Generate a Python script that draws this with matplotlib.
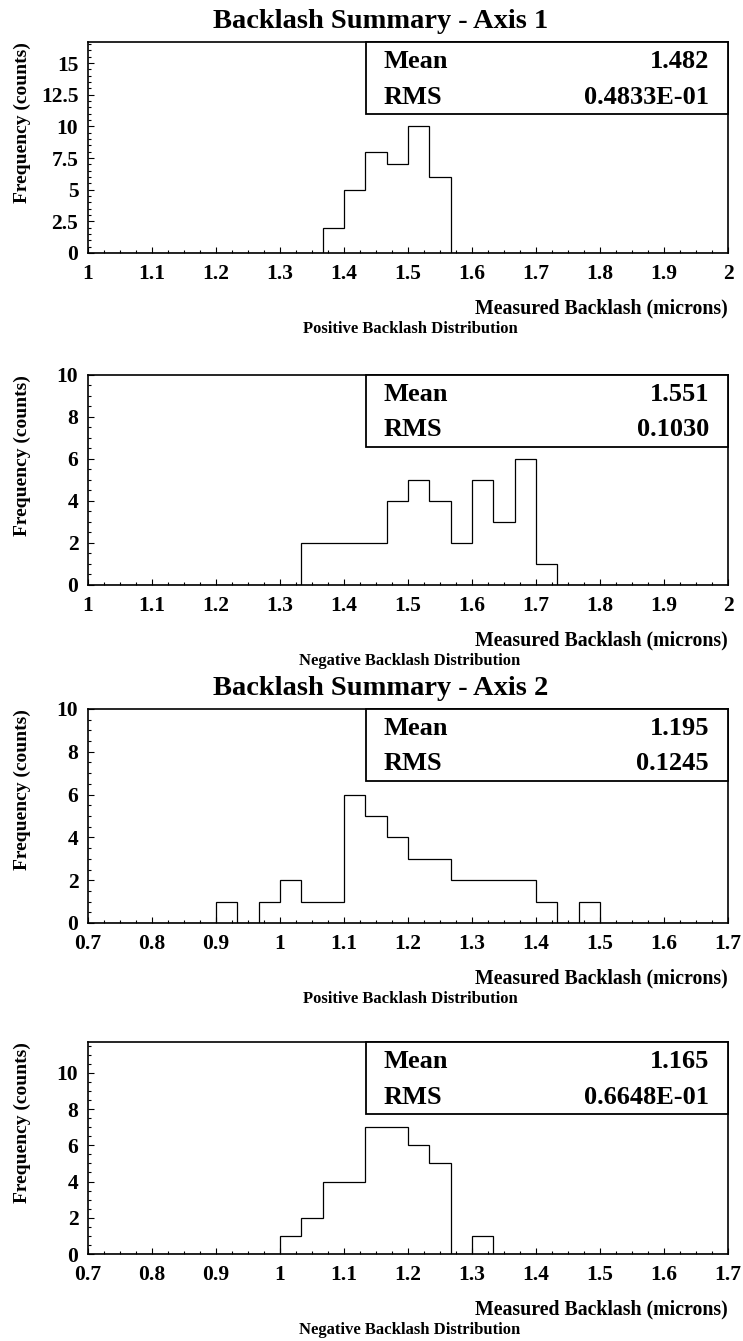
import matplotlib
matplotlib.use('Agg')
import matplotlib.pyplot as plt
import numpy as np
from matplotlib.patches import Rectangle
from matplotlib.ticker import MultipleLocator, FormatStrFormatter

plt.rcParams['font.family'] = ['Liberation Serif', 'DejaVu Serif']
plt.rcParams['font.weight'] = 'bold'

# ---------------- data ----------------
# counts per bin (bin width = 1/30 micron)
ax1_range = (1.0, 2.0)
ax1_pos_counts = [0, 0, 0, 0, 0, 0, 0, 0, 0, 0, 0, 2, 5, 8, 7, 10, 6, 0, 0, 0,
                  0, 0, 0, 0, 0, 0, 0, 0, 0, 0]
ax1_neg_counts = [0, 0, 0, 0, 0, 0, 0, 0, 0, 0, 2, 2, 2, 2, 4, 5, 4, 2, 5, 3,
                  6, 1, 0, 0, 0, 0, 0, 0, 0, 0]
ax2_range = (0.7, 1.7)
ax2_pos_counts = [0, 0, 0, 0, 0, 0, 1, 0, 1, 2, 1, 1, 6, 5, 4, 3, 3, 2, 2, 2,
                  2, 1, 0, 1, 0, 0, 0, 0, 0, 0]
ax2_neg_counts = [0, 0, 0, 0, 0, 0, 0, 0, 0, 1, 2, 4, 4, 7, 7, 6, 5, 0, 1, 0,
                  0, 0, 0, 0, 0, 0, 0, 0, 0, 0]

means = ['1.482', '1.551', '1.195', '1.165']
rmss = ['0.4833E-01', '0.1030', '0.1245', '0.6648E-01']
ymaxes = [16.66, 10, 10, 11.7]
ymajor = [2.5, 2, 2, 2]
yminor = [0.5, 0.5, 0.5, 0.5]
titles = ['Backlash Summary - Axis 1', None, 'Backlash Summary - Axis 2', None]
subtitles = ['Positive Backlash Distribution', 'Negative Backlash Distribution',
             'Positive Backlash Distribution', 'Negative Backlash Distribution']
xlabel = 'Measured Backlash (microns)'
ylabel = 'Frequency (counts)'

# ---------------- layout (pixels) ----------------
W, H = 743, 1341
fig = plt.figure(figsize=(W / 100, H / 100), dpi=100)
L, R = 88, 728
tops = [42, 375, 709, 1042]
bottoms = [253, 585, 923, 1254]

panels = [(ax1_range, ax1_pos_counts), (ax1_range, ax1_neg_counts),
          (ax2_range, ax2_pos_counts), (ax2_range, ax2_neg_counts)]

for i, ((lo, hi), counts) in enumerate(panels):
    top, bot = tops[i], bottoms[i]
    hpx = bot - top
    ax = fig.add_axes([L / W, 1 - bot / H, (R - L) / W, hpx / H])
    edges = np.linspace(lo, hi, len(counts) + 1)
    ax.stairs(counts, edges, color='black', lw=0.9, baseline=0)
    ax.set_xlim(lo, hi)
    ax.set_ylim(0, ymaxes[i])
    ax.xaxis.set_major_locator(MultipleLocator(0.1))
    ax.xaxis.set_minor_locator(MultipleLocator(0.025))
    ax.yaxis.set_major_locator(MultipleLocator(ymajor[i]))
    ax.yaxis.set_minor_locator(MultipleLocator(yminor[i]))
    ax.xaxis.set_major_formatter(FormatStrFormatter('%g'))
    ax.yaxis.set_major_formatter(FormatStrFormatter('%g'))
    ax.tick_params(which='both', direction='in', top=False, right=False,
                   labelsize=15.5, width=0.8)
    ax.tick_params(which='major', length=4)
    ax.tick_params(which='minor', length=2)
    ax.tick_params(axis='x', pad=8)
    ax.tick_params(axis='y', pad=7)
    for lab in ax.get_xticklabels() + ax.get_yticklabels():
        lab.set_fontweight('bold')
    for s in ax.spines.values():
        s.set_linewidth(1.2)

    # stat box
    bx0 = (366 - L) / (R - L)
    bh = 72 / hpx
    ax.add_patch(Rectangle((bx0, 1 - bh), 1 - bx0, bh, transform=ax.transAxes,
                           facecolor='white', edgecolor='black', lw=1.3,
                           zorder=5, clip_on=False))
    tx = (384 - L) / (R - L)
    vx = (709 - L) / (R - L)
    ax.text(tx, 1 - 20 / hpx, 'Mean', transform=ax.transAxes, fontsize=19,
            fontweight='bold', ha='left', va='center', zorder=6)
    ax.text(vx, 1 - 20 / hpx, means[i], transform=ax.transAxes, fontsize=19,
            fontweight='bold', ha='right', va='center', zorder=6)
    ax.text(tx, 1 - 55 / hpx, 'RMS', transform=ax.transAxes, fontsize=19,
            fontweight='bold', ha='left', va='center', zorder=6)
    ax.text(vx, 1 - 55 / hpx, rmss[i], transform=ax.transAxes, fontsize=19,
            fontweight='bold', ha='right', va='center', zorder=6)

    # labels
    fig.text(22 / W, 1 - top / H, ylabel, rotation=90, ha='center', va='top',
             fontsize=14, fontweight='bold')
    fig.text(R / W, 1 - (bot + 55) / H, xlabel, ha='right', va='center',
             fontsize=14.3, fontweight='bold')
    fig.text(410 / W, 1 - (bot + 76) / H, subtitles[i], ha='center', va='center',
             fontsize=12, fontweight='bold')
    if titles[i]:
        fig.text(381 / W, 1 - (top - 21) / H, titles[i], ha='center', va='center',
                 fontsize=20.5, fontweight='bold')

fig.savefig('out.png', dpi=100, facecolor='white')
